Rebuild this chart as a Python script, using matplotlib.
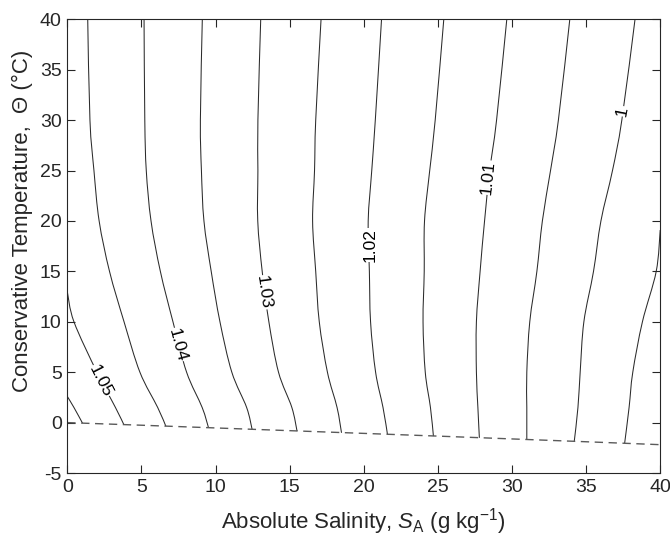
import matplotlib
matplotlib.use('Agg')

import matplotlib.pyplot as plt
from matplotlib.path import Path
from matplotlib.patches import PathPatch

plt.rcParams['font.family'] = ['Liberation Sans', 'DejaVu Sans']
plt.rcParams['mathtext.fontset'] = 'custom'
plt.rcParams['mathtext.rm'] = 'Liberation Sans'
plt.rcParams['mathtext.it'] = 'Liberation Sans:italic'
plt.rcParams['axes.unicode_minus'] = False

# contour lines that run from the top of the plot down to the freezing line
levels = [1.045, 1.04, 1.035, 1.03, 1.025, 1.02, 1.015, 1.01, 1.005, 1.0]
ct_rows = [40, 30, 25, 20, 15, 10, 5, 1.5]
sa_rows = [
    [1.38, 1.53, 1.80, 2.15, 2.85, 3.83, 4.90, 6.10],
    [5.18, 5.23, 5.33, 5.65, 6.28, 7.13, 8.05, 9.10],
    [9.11, 8.98, 9.05, 9.22, 9.71, 10.30, 11.10, 12.10],
    [13.05, 12.86, 12.86, 12.85, 13.15, 13.60, 14.25, 15.15],
    [17.12, 16.76, 16.68, 16.55, 16.76, 17.00, 17.55, 18.20],
    [21.20, 20.78, 20.54, 20.30, 20.38, 20.46, 20.80, 21.30],
    [25.40, 24.82, 24.45, 24.10, 24.08, 24.00, 24.15, 24.50],
    [29.65, 28.96, 28.50, 28.15, 27.85, 27.60, 27.60, 27.70],
    [33.90, 33.13, 32.60, 32.05, 31.68, 31.20, 31.00, 31.00],
    [38.30, 37.41, 36.78, 36.00, 35.50, 34.85, 34.60, 34.45],
]
sa_bottom = [6.65, 9.53, 12.47, 15.5, 18.5, 21.6, 24.7, 27.8, 31.0, 34.2]
ct_bottom = [-0.36, -0.52, -0.68, -0.84, -1.01, -1.17, -1.34, -1.51, -1.69, -1.87]

# contour lines that leave through the side of the plot
sa_1055 = [0.0, 0.45, 1.03]
ct_1055 = [2.6, 1.5, -0.06]
sa_1050 = [0.0, 0.45, 2.0, 3.25, 3.82]
ct_1050 = [13.0, 10.0, 5.0, 1.5, -0.21]
sa_0995 = [40.0, 39.73, 38.8, 38.15, 37.9, 37.6]
ct_0995 = [19.1, 15.0, 10.0, 5.0, 1.5, -2.05]

# freezing line
sa_freeze = [0, 5, 10, 15, 20, 25, 30, 35, 40]
ct_freeze = [0.0, -0.26, -0.53, -0.80, -1.07, -1.34, -1.62, -1.90, -2.19]

# contour labels: text, SA, CT, rotation
label_text = ['1.05', '1.04', '1.03', '1.02', '1.01', '1']
label_sa = [2.2, 7.4, 13.2, 20.4, 28.4, 37.4]
label_ct = [4.1, 7.7, 12.9, 17.6, 24.3, 30.9]
label_rot = [-63, -75, -82, 90, 84, 79]


def smooth_line(ax, xs, ys, **kw):
    # draw a smooth curve through the read points (Catmull-Rom as Bezier)
    pts = list(zip(xs, ys))
    n = len(pts)
    verts = [pts[0]]
    codes = [Path.MOVETO]
    for i in range(n - 1):
        p0 = pts[i - 1] if i > 0 else pts[i]
        p1 = pts[i]
        p2 = pts[i + 1]
        p3 = pts[i + 2] if i + 2 < n else pts[i + 1]
        c1 = (p1[0] + (p2[0] - p0[0]) / 6, p1[1] + (p2[1] - p0[1]) / 6)
        c2 = (p2[0] - (p3[0] - p1[0]) / 6, p2[1] - (p3[1] - p1[1]) / 6)
        verts += [c1, c2, p2]
        codes += [Path.CURVE4] * 3
    ax.add_patch(PathPatch(Path(verts, codes), fill=False, **kw))


fig = plt.figure(figsize=(6.7, 5.44), dpi=100)
ax = fig.add_axes([0.1004, 0.1305, 0.885, 0.834])

line_kw = dict(edgecolor='#2b2b2b', lw=0.75, capstyle='butt')
for sa, sa_end, ct_end in zip(sa_rows, sa_bottom, ct_bottom):
    smooth_line(ax, sa + [sa_end], ct_rows + [ct_end], **line_kw)
smooth_line(ax, sa_1055, ct_1055, **line_kw)
smooth_line(ax, sa_1050, ct_1050, **line_kw)
smooth_line(ax, sa_0995, ct_0995, **line_kw)

ax.plot(sa_freeze, ct_freeze, color='#5a5a5a', lw=1.0, dashes=(6, 4))

for txt, x, y, r in zip(label_text, label_sa, label_ct, label_rot):
    ax.text(x, y, txt, rotation=r, rotation_mode='anchor', ha='center', va='center',
            fontsize=12.5, color='black',
            bbox=dict(facecolor='white', edgecolor='none', pad=0.3))

ax.set_xlim(0, 40)
ax.set_ylim(-5, 40)
ax.set_xticks(range(0, 41, 5))
ax.set_yticks(range(-5, 41, 5))
ax.tick_params(direction='in', top=True, right=True, length=6, width=0.8,
               colors='#262626', labelsize=14, pad=4)
for s in ax.spines.values():
    s.set_color('#262626')
    s.set_linewidth(0.8)

ax.set_xlabel('Absolute Salinity, $S_\\mathrm{A}$ (g kg$^{-1}$)', fontsize=16,
              color='#262626')
ax.set_ylabel('Conservative Temperature,  \u0398 (\u00b0C)', fontsize=16,
              color='#262626')
ax.xaxis.label.set_va('center')
ax.yaxis.label.set_va('center')
ax.xaxis.set_label_coords(0.5, -0.108)
ax.yaxis.set_label_coords(-0.0764, 0.555)

plt.savefig('out.png', dpi=100)
